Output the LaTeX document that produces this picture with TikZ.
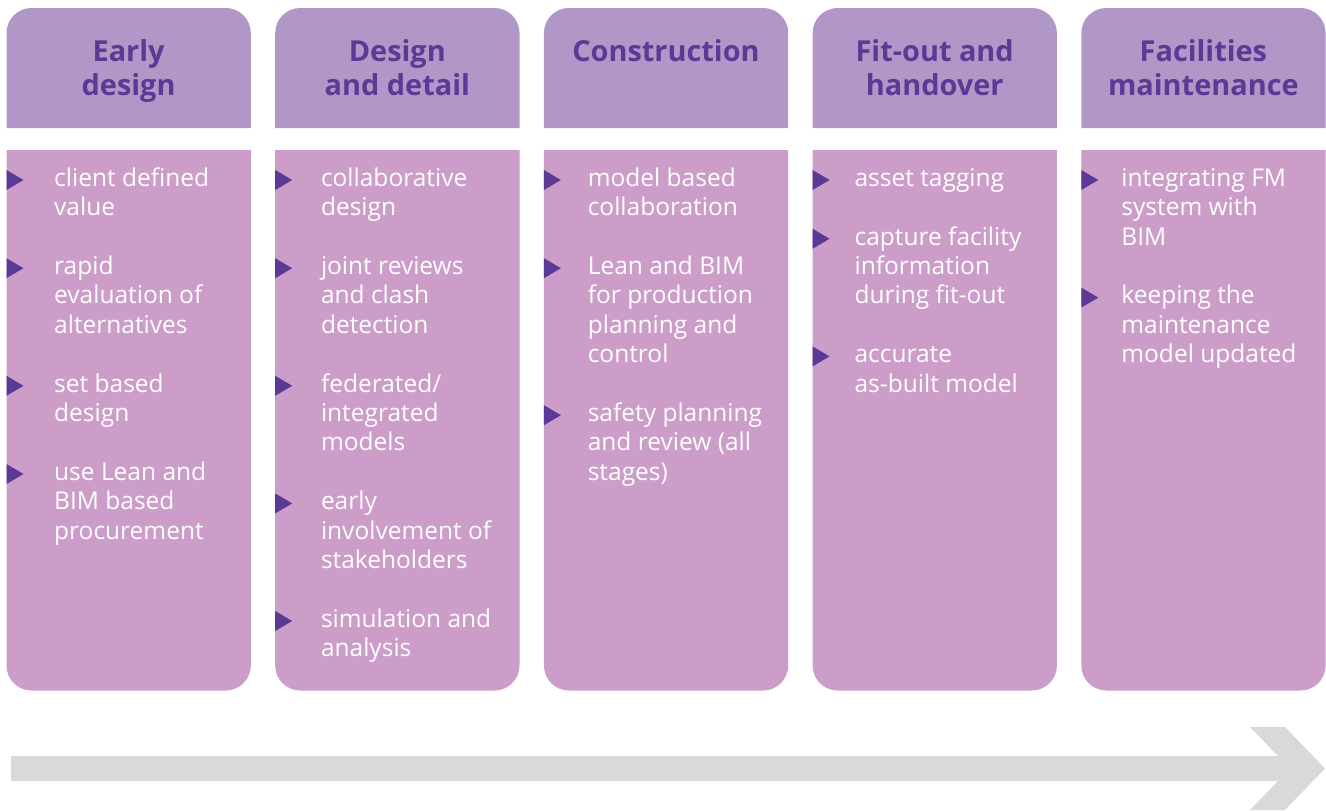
\documentclass[tikz,border=0pt]{standalone}
\usepackage{fontspec}
\setmainfont{Open Sans}
\definecolor{headfill}{HTML}{B197C8}
\definecolor{bodyfill}{HTML}{CB9DC8}
\definecolor{darkpurple}{HTML}{5B3A96}
\definecolor{arrowgrey}{HTML}{D9D9DB}
\newcommand{\hstrut}{\rule{0pt}{23.8pt}}
\newcommand{\bstrut}{\rule{0pt}{20.58pt}}
\tikzset{
  headtext/.style={anchor=north, align=center, inner sep=0pt, text=darkpurple,
    font=\fontsize{28.9}{34}\selectfont\bfseries},
  itemtext/.style={anchor=north west, align=left, inner sep=0pt, text=white,
    font=\fontsize{24.5}{29.4}\selectfont}
}
% #1 column, #2 line number, #3 name, #4 text
\newcommand{\bul}[4]{%
  \fill[darkpurple] (6.5+268.7*#1,170+29.4*#2) -- ++(17,10) -- ++(-17,10) -- cycle;
  \node[itemtext] (#3) at (54+266.8*#1,165.42+29.4*#2) {\bstrut#4};}

\begin{document}
\begin{tikzpicture}[x=1pt,y=-1pt]
    \useasboundingbox (0,0) rectangle (1326,811);
    \foreach \i in {0,...,4} {
        \fill[headfill] (6.5+268.7*\i,128) [rounded corners=25pt] -- (6.5+268.7*\i,8)
            -- (250.8+268.7*\i,8) [sharp corners] -- (250.8+268.7*\i,128) -- cycle;
        \fill[bodyfill] (6.5+268.7*\i,150) [rounded corners=25pt] -- (6.5+268.7*\i,690.5)
            -- (250.8+268.7*\i,690.5) [sharp corners] -- (250.8+268.7*\i,150) -- cycle;
    }
    \node[headtext] (early) at (128.6,37.2) {\hstrut Early\\design};
    \node[headtext] (detail) at (397.3,37.2) {\hstrut Design\\and detail};
    \node[headtext] (construct) at (666,37.2) {\hstrut Construction};
    \node[headtext] (fitout) at (934.7,37.2) {\hstrut Fit-out and\\handover};
    \node[headtext] (facilities) at (1203.4,37.2) {\hstrut Facilities\\maintenance};
    % early design
    \bul{0}{0}{client}{client defined\\value}
    \bul{0}{3}{rapid}{rapid\\evaluation of\\alternatives}
    \bul{0}{7}{setbased}{set based\\design}
    \bul{0}{10}{procure}{use Lean and\\BIM based\\procurement}
    % design and detail
    \bul{1}{0}{collab}{collaborative\\design}
    \bul{1}{3}{reviews}{joint reviews\\and clash\\detection}
    \bul{1}{7}{federated}{federated/\\integrated\\models}
    \bul{1}{11}{involve}{early\\involvement of\\stakeholders}
    \bul{1}{15}{simul}{simulation and\\analysis}
    % construction
    \bul{2}{0}{modelcollab}{model based\\collaboration}
    \bul{2}{3}{leanbim}{Lean and BIM\\for production\\planning and\\control}
    \bul{2}{8}{safety}{safety planning\\and review (all\\stages)}
    % fit-out and handover
    \bul{3}{0}{tagging}{asset tagging}
    \bul{3}{2}{capture}{capture facility\\information\\during fit-out}
    \bul{3}{6}{asbuilt}{accurate\\as-built model}
    % facilities maintenance
    \bul{4}{0}{fmsystem}{integrating FM\\system with\\BIM}
    \bul{4}{4}{keeping}{keeping the\\maintenance\\model updated}
    % time arrow
    \fill[arrowgrey] (11,756) -- (1278,756) -- (1250,727) -- (1285,727) -- (1325,768.5)
        -- (1285,810) -- (1250,810) -- (1278,781) -- (11,781) -- cycle;
\end{tikzpicture}
\end{document}
